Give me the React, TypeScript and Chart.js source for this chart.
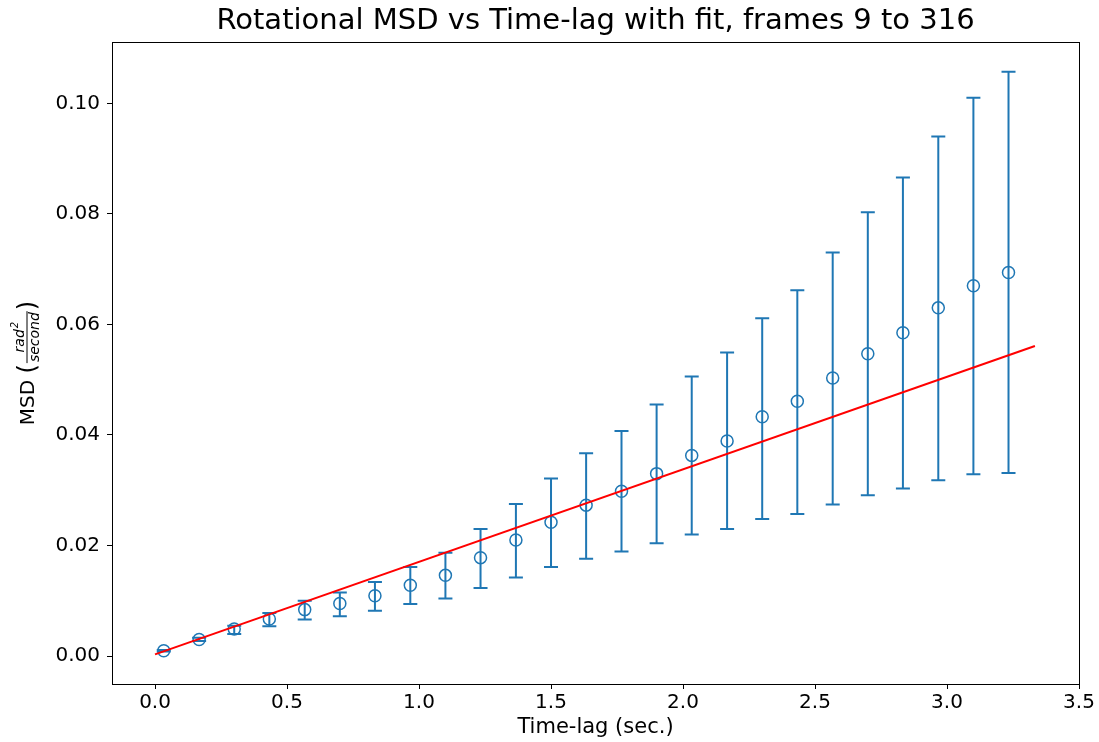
import React, { useEffect, useRef } from "react";
import { Chart, registerables } from "chart.js";

Chart.register(...registerables);

const TITLE = "Rotational MSD vs Time-lag with fit, frames 9 to 316";
const X_LABEL = "Time-lag (sec.)";

const timeLag = [
  0.033, 0.167, 0.3, 0.433, 0.567, 0.7, 0.833, 0.967, 1.1, 1.233, 1.367, 1.5, 1.633,
  1.767, 1.9, 2.033, 2.167, 2.3, 2.433, 2.567, 2.7, 2.833, 2.967, 3.1, 3.233,
];
const msd = [
  0.00096, 0.003, 0.0049, 0.0067, 0.0084, 0.0095, 0.0109, 0.0128, 0.0146, 0.0178, 0.021,
  0.0242, 0.0273, 0.0298, 0.033, 0.0363, 0.0389, 0.0433, 0.0461, 0.0503, 0.0547, 0.0585,
  0.063, 0.067, 0.0694,
];
const errHigh = [
  0.0011, 0.0033, 0.0055, 0.0078, 0.01, 0.0115, 0.0134, 0.0161, 0.0187, 0.023, 0.0275,
  0.0321, 0.0367, 0.0407, 0.0455, 0.0506, 0.0549, 0.0611, 0.0662, 0.073, 0.0803, 0.0866,
  0.094, 0.101, 0.1057,
];
const errLow = [
  0.0008, 0.0027, 0.004, 0.0054, 0.0066, 0.0072, 0.0082, 0.0094, 0.0104, 0.0123, 0.0142,
  0.0161, 0.0176, 0.0189, 0.0204, 0.022, 0.023, 0.0248, 0.0257, 0.0274, 0.0291, 0.0303,
  0.0318, 0.0329, 0.0331,
];
const fitX = [0.0, 3.333];
const fitY = [0.0003, 0.0561];

const xTicks = [0, 0.5, 1.0, 1.5, 2.0, 2.5, 3.0, 3.5];
const yTicks = [0, 0.02, 0.04, 0.06, 0.08, 0.1];

const BLUE = "#1f77b4";
const FONT = "'DejaVu Sans', sans-serif";

const errorBarPlugin = {
  id: "errorBars",
  beforeDatasetsDraw(chart: any) {
    const { ctx, chartArea } = chart;
    const xs = chart.scales.x;
    const ys = chart.scales.y;
    ctx.save();
    ctx.beginPath();
    ctx.rect(chartArea.left, chartArea.top, chartArea.right - chartArea.left, chartArea.bottom - chartArea.top);
    ctx.clip();
    ctx.strokeStyle = BLUE;
    ctx.lineWidth = 2;
    for (let i = 0; i < timeLag.length; i++) {
      const px = xs.getPixelForValue(timeLag[i]);
      const pt = ys.getPixelForValue(errHigh[i]);
      const pb = ys.getPixelForValue(errLow[i]);
      ctx.beginPath();
      ctx.moveTo(px, pt);
      ctx.lineTo(px, pb);
      ctx.moveTo(px - 7, pt);
      ctx.lineTo(px + 7, pt);
      ctx.moveTo(px - 7, pb);
      ctx.lineTo(px + 7, pb);
      ctx.stroke();
    }
    ctx.restore();
  },
};

const framePlugin = {
  id: "frame",
  afterDraw(chart: any) {
    const { ctx, chartArea } = chart;
    ctx.save();
    ctx.strokeStyle = "#000";
    ctx.lineWidth = 1;
    ctx.strokeRect(
      Math.round(chartArea.left) + 0.5,
      Math.round(chartArea.top) + 0.5,
      Math.round(chartArea.right - chartArea.left),
      Math.round(chartArea.bottom - chartArea.top)
    );
    ctx.restore();
  },
};

const yLabelPlugin = {
  id: "yLabel",
  afterDraw(chart: any) {
    const { ctx, chartArea } = chart;
    const cy = (chartArea.top + chartArea.bottom) / 2;
    ctx.save();
    ctx.translate(34, cy);
    ctx.rotate(-Math.PI / 2);
    ctx.fillStyle = "#000";
    ctx.textBaseline = "alphabetic";
    ctx.textAlign = "left";
    const mainFont = `20px ${FONT}`;
    const parenFont = `24px ${FONT}`;
    const smallFont = `italic 14px ${FONT}`;
    const supFont = `italic 10px ${FONT}`;
    ctx.font = mainFont;
    const left = "MSD ";
    const wl = ctx.measureText(left).width;
    ctx.font = parenFont;
    const wpo = ctx.measureText("(").width;
    const wpc = ctx.measureText(")").width;
    ctx.font = smallFont;
    const numBase = "rad";
    const den = "second";
    const wnb = ctx.measureText(numBase).width;
    ctx.font = supFont;
    const wsup = ctx.measureText("2").width;
    const wn = wnb + wsup + 1;
    ctx.font = smallFont;
    const wd = ctx.measureText(den).width;
    const wf = Math.max(wn, wd) + 4;
    const total = wl + wpo + wf + wpc;
    let x = -total / 2;
    ctx.font = mainFont;
    ctx.fillText(left, x, 0);
    x += wl;
    ctx.font = parenFont;
    ctx.fillText("(", x, 1);
    x += wpo;
    const barY = -7;
    ctx.font = smallFont;
    const nx = x + (wf - wn) / 2;
    ctx.fillText(numBase, nx, barY - 3);
    ctx.font = supFont;
    ctx.fillText("2", nx + wnb + 1, barY - 9);
    ctx.font = smallFont;
    ctx.fillText(den, x + (wf - wd) / 2, barY + 12);
    ctx.strokeStyle = "#000";
    ctx.lineWidth = 1;
    ctx.beginPath();
    ctx.moveTo(x + 1, barY);
    ctx.lineTo(x + wf - 1, barY);
    ctx.stroke();
    x += wf;
    ctx.font = parenFont;
    ctx.fillText(")", x, 1);
    ctx.restore();
  },
};

export default function App() {
  const ref = useRef<HTMLCanvasElement | null>(null);
  useEffect(() => {
    document.body.style.margin = "0";
    const canvas = ref.current;
    if (!canvas) return;
    const chart = new Chart(canvas, {
      type: "scatter",
      data: {
        datasets: [
          {
            type: "line",
            label: "fit",
            data: fitX.map((x, i) => ({ x, y: fitY[i] })),
            borderColor: "#ff0000",
            borderWidth: 2,
            pointRadius: 0,
            fill: false,
            order: 0,
          } as any,
          {
            type: "scatter",
            label: "MSD",
            data: timeLag.map((x, i) => ({ x, y: msd[i] })),
            borderColor: BLUE,
            backgroundColor: "rgba(0,0,0,0)",
            pointRadius: 6,
            pointBorderWidth: 1.5,
            pointStyle: "circle",
            order: 1,
          } as any,
        ],
      },
      options: {
        responsive: false,
        animation: false,
        devicePixelRatio: 1,
        layout: { padding: { left: 0, right: 20, top: 0, bottom: 0 } },
        plugins: {
          legend: { display: false },
          tooltip: { enabled: false },
          title: {
            display: true,
            fullSize: false,
            text: TITLE,
            color: "#000",
            font: { family: FONT, size: 29, weight: "normal" },
            padding: { top: 3.6, bottom: 3.6 },
          },
        },
        scales: {
          x: {
            type: "linear",
            min: -0.163,
            max: 3.5,
            afterFit(scale: any) {
              scale.height = 58;
            },
            afterBuildTicks(scale: any) {
              scale.ticks = xTicks.map((v) => ({ value: v }));
            },
            ticks: {
              color: "#000",
              font: { family: FONT, size: 20 },
              padding: 2,
              maxRotation: 0,
              autoSkip: false,
              callback: (v: any) => Number(v).toFixed(1),
            },
            grid: {
              display: true,
              drawOnChartArea: false,
              drawTicks: true,
              tickLength: 5,
              tickColor: "#000",
            },
            border: { display: true, color: "#000", width: 1 },
            title: {
              display: true,
              text: X_LABEL,
              color: "#000",
              font: { family: FONT, size: 21 },
              padding: { top: 0, bottom: 2 },
            },
          },
          y: {
            type: "linear",
            min: -0.00506,
            max: 0.1111,
            afterFit(scale: any) {
              scale.width = 112;
            },
            afterBuildTicks(scale: any) {
              scale.ticks = yTicks.map((v) => ({ value: v }));
            },
            ticks: {
              color: "#000",
              font: { family: FONT, size: 20 },
              padding: 7,
              autoSkip: false,
              callback: (v: any) => Number(v).toFixed(2),
            },
            grid: {
              display: true,
              drawOnChartArea: false,
              drawTicks: true,
              tickLength: 5,
              tickColor: "#000",
            },
            border: { display: true, color: "#000", width: 1 },
            title: { display: false },
          },
        },
      },
      plugins: [errorBarPlugin, framePlugin, yLabelPlugin],
    });
    return () => chart.destroy();
  }, []);
  return (
    <div style={{ width: 1099, height: 742, background: "#fff" }}>
      <canvas ref={ref} width={1099} height={742} style={{ display: "block", width: 1099, height: 742 }} />
    </div>
  );
}
